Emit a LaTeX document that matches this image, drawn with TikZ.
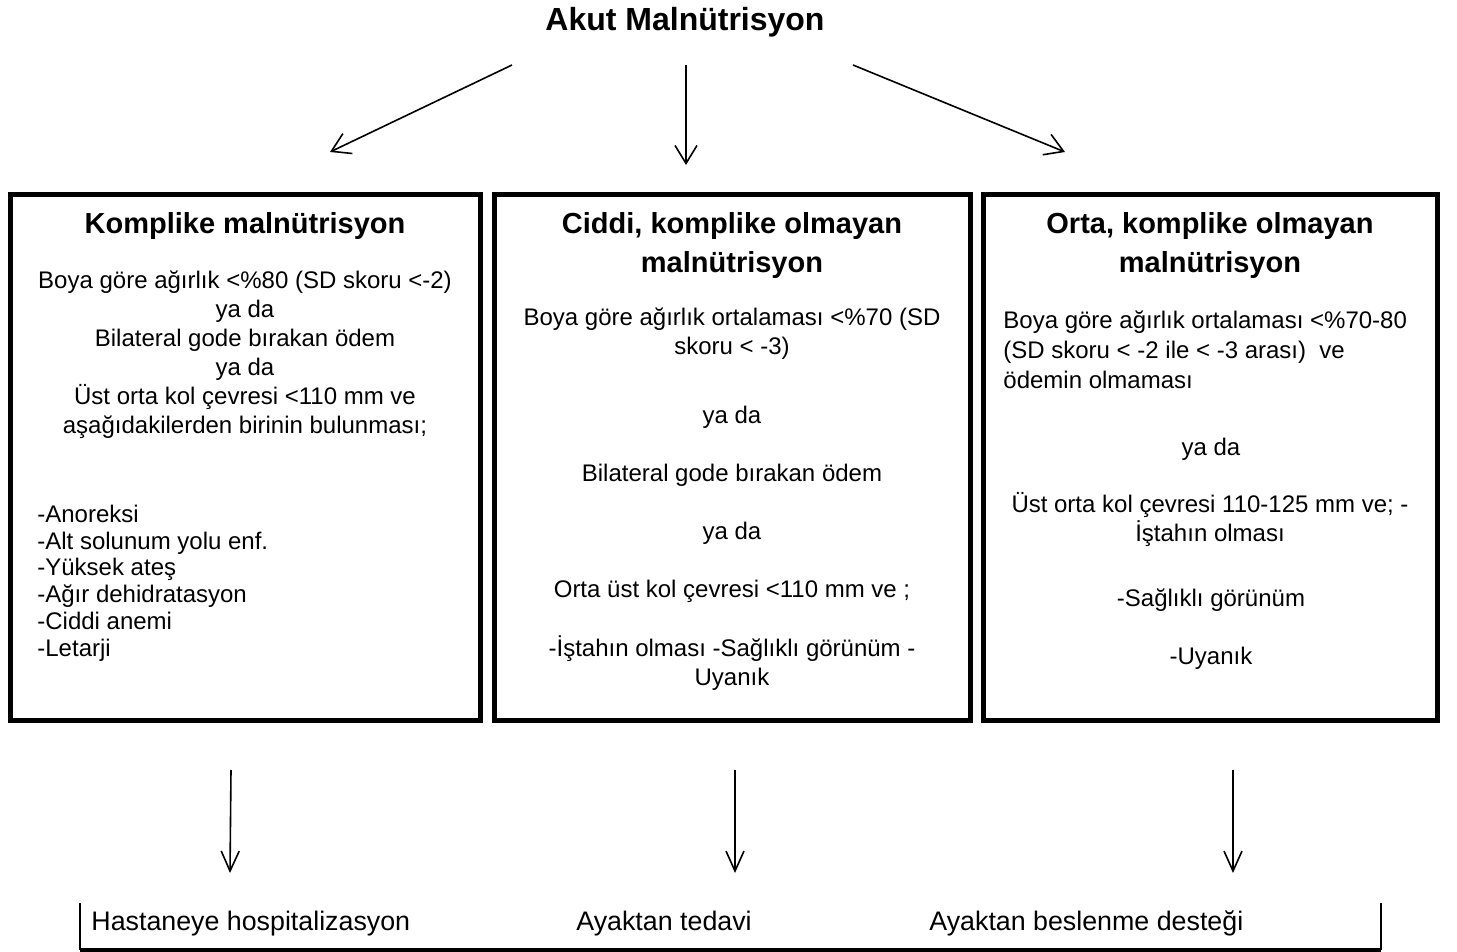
\documentclass[tikz,border=0pt]{standalone}
\usepackage{fontspec}
\setmainfont{Liberation Sans}
\usepackage{tikz}
\usetikzlibrary{positioning, arrows.meta}

\tikzset{
  kutu/.style={draw=black, line width=2.5pt, minimum height=262.5pt, inner sep=0pt},
  anabaslik/.style={inner sep=0pt, font=\fontsize{16}{19}\selectfont\bfseries},
  baslik/.style={inner sep=0pt, align=center, font=\fontsize{14.5}{19.5}\selectfont\bfseries},
  metin/.style={inner sep=0pt, align=center, font=\fontsize{12}{14.5}\selectfont},
  liste/.style={inner sep=0pt, align=left, anchor=west, font=\fontsize{12}{13.4}\selectfont},
  sonuc/.style={inner sep=0pt, anchor=base west, font=\fontsize{13.4}{16}\selectfont},
  ok/.style={line width=0.8pt, -{Straight Barb[length=9pt, width=11pt]}},
  altok/.style={line width=0.8pt, -{Straight Barb[length=10pt, width=9pt]}}
}

\begin{document}
\begin{tikzpicture}[x=0.5pt, y=-0.5pt]
\useasboundingbox (0,0) rectangle (1457,952);

\node[anabaslik] (akut) at (685, 22) {Akut Malnütrisyon};

\coordinate (u1) at (512, 65);
\coordinate (u2) at (686, 65);
\coordinate (u3) at (853, 65);
\coordinate (a1) at (330, 152);
\coordinate (a2) at (686, 165);
\coordinate (a3) at (1065, 152);
\draw[ok] (u1) -- (a1);
\draw[ok] (u2) -- (a2);
\draw[ok] (u3) -- (a3);

\node[kutu, minimum width=235pt] (komplike) at (245, 457.5) {};
\node[kutu, minimum width=238pt] (ciddi) at (732, 457.5) {};
\node[kutu, minimum width=227pt] (orta) at (1210, 457.5) {};

\node[baslik] (b1) at (245, 226) {Komplike malnütrisyon};
\node[metin] (m1) at (245, 354.5) {Boya göre ağırlık <\%80 (SD skoru <-2)\\ya da\\Bilateral gode bırakan ödem\\ya da\\Üst orta kol çevresi <110 mm ve\\aşağıdakilerden birinin bulunması;};
\node[liste] (l1) at (37, 583) {-Anoreksi\\-Alt solunum yolu enf.\\-Yüksek ateş\\-Ağır dehidratasyon\\-Ciddi anemi\\-Letarji};

\node[baslik] (b2) at (732, 245.5) {Ciddi, komplike olmayan\\malnütrisyon};
\node[metin] (m2a) at (732, 334) {Boya göre ağırlık ortalaması <\%70 (SD\\skoru < -3)};
\node[metin] (m2b) at (732, 417) {ya da};
\node[metin] (m2c) at (732, 475) {Bilateral gode bırakan ödem};
\node[metin] (m2d) at (732, 533) {ya da};
\node[metin] (m2e) at (732, 591) {Orta üst kol çevresi <110 mm ve ;};
\node[metin] (m2f) at (732, 663) {-İştahın olması -Sağlıklı görünüm -\\Uyanık};

\node[baslik] (b3) at (1210, 245.5) {Orta, komplike olmayan\\malnütrisyon};
\node[metin, align=left, anchor=west, font=\fontsize{12}{15}\selectfont] (m3a) at (1003, 350) {Boya göre ağırlık ortalaması <\%70-80\\(SD skoru < -2 ile < -3 arası)~ ve\\ödemin olmaması};
\node[metin] (m3b) at (1211, 449) {ya da};
\node[metin] (m3c) at (1210, 519.5) {Üst orta kol çevresi 110-125 mm ve; -\\İştahın olması};
\node[metin] (m3d) at (1211, 600) {-Sağlıklı görünüm};
\node[metin] (m3e) at (1211, 658) {-Uyanık};

\coordinate (s1) at (231, 770);
\coordinate (s2) at (735, 770);
\coordinate (s3) at (1233, 770);
\coordinate (t1) at (230, 873);
\coordinate (t2) at (735, 873);
\coordinate (t3) at (1233, 873);
\draw[altok] (s1) -- (t1);
\draw[altok] (s2) -- (t2);
\draw[altok] (s3) -- (t3);

\node[sonuc] (hastane) at (91, 930) {Hastaneye hospitalizasyon};
\node[sonuc] (ayaktan) at (576, 930) {Ayaktan tedavi};
\node[sonuc] (destek) at (929, 930) {Ayaktan beslenme desteği};

\coordinate (c1) at (80, 903);
\coordinate (c2) at (80, 950);
\coordinate (c3) at (1381, 950);
\coordinate (c4) at (1381, 903);
\draw[line width=0.8pt] (c1) -- (c2);
\draw[line width=0.8pt] (c4) -- (c3);
\draw[line width=2pt] (c2) -- (c3);
\end{tikzpicture}
\end{document}
